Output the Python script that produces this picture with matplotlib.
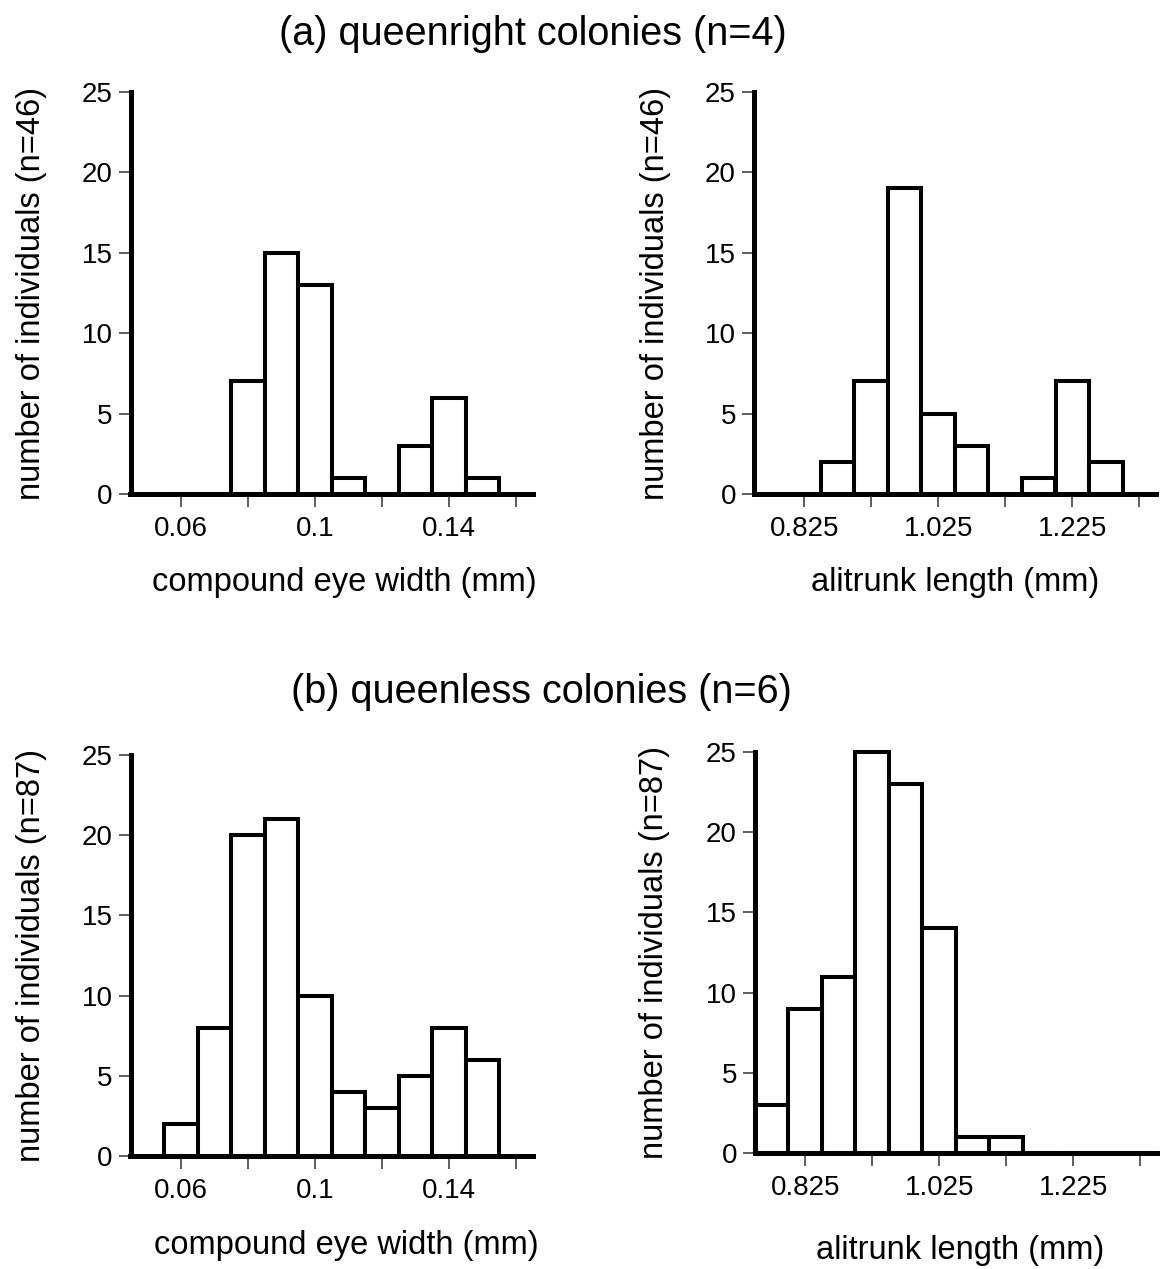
import matplotlib
matplotlib.use("Agg")
import matplotlib.pyplot as plt
import numpy as np

plt.rcParams['font.family'] = ['Liberation Sans', 'DejaVu Sans']

# ---- data ----
eye_centers = [0.06, 0.07, 0.08, 0.09, 0.10, 0.11, 0.12, 0.13, 0.14, 0.15]
eye_width = 0.01
qr_eye_counts = [0, 0, 7, 15, 13, 1, 0, 3, 6, 1]
ql_eye_counts = [2, 8, 20, 21, 10, 4, 3, 5, 8, 6]

ali_centers = [0.775, 0.825, 0.875, 0.925, 0.975, 1.025, 1.075, 1.125,
               1.175, 1.225, 1.275, 1.325]
ali_width = 0.05
qr_ali_counts = [0, 0, 2, 7, 19, 5, 3, 0, 1, 7, 2, 0]
ql_ali_counts = [3, 9, 11, 25, 23, 14, 1, 1, 0, 0, 0, 0]

eye_ticks = [0.06, 0.08, 0.10, 0.12, 0.14, 0.16]
eye_ticklabels = ['0.06', '', '0.1', '', '0.14', '']
ali_ticks = [0.825, 0.925, 1.025, 1.125, 1.225, 1.325]
ali_ticklabels = ['0.825', '', '1.025', '', '1.225', '']
y_ticks = [0, 5, 10, 15, 20, 25]

title_a = '(a) queenright colonies (n=4)'
title_b = '(b) queenless colonies (n=6)'
xlabel_eye = 'compound eye width (mm)'
xlabel_ali = 'alitrunk length (mm)'
ylabel_a = 'number of individuals (n=46)'
ylabel_b = 'number of individuals (n=87)'

W, H = 1161, 1269
fig = plt.figure(figsize=(W / 100, H / 100), dpi=100)


def px_axes(left, top, right, bottom):
    return fig.add_axes([left / W, 1 - bottom / H, (right - left) / W, (bottom - top) / H])


def style(ax, centers, width, counts, xlim, ticks, ticklabels, xlabel, ylabel,
          xlab_pos, ylab_pos):
    bars = ax.bar(centers, counts, width=width, color='white', edgecolor='black',
                  linewidth=2.9, zorder=2)
    for b in bars:
        b.set_clip_on(False)
    ax.set_xlim(*xlim)
    ax.set_ylim(0, 25)
    for s in ['top', 'right']:
        ax.spines[s].set_visible(False)
    for s in ['left', 'bottom']:
        ax.spines[s].set_linewidth(3.6)
        ax.spines[s].set_zorder(3)
    ax.set_xticks(ticks)
    ax.set_xticklabels(ticklabels)
    ax.set_yticks(y_ticks)
    ax.tick_params(axis='both', which='major', direction='out', length=9,
                   width=1.1, labelsize=20, color='#333333')
    ax.tick_params(axis='x', pad=7)
    ax.tick_params(axis='y', pad=4)
    ax.set_xlabel(xlabel, fontsize=23.5)
    ax.set_ylabel(ylabel, fontsize=23.5)
    ax.xaxis.label.set_va('center')
    ax.yaxis.label.set_va('center')
    ax.xaxis.set_label_coords(*xlab_pos)
    ax.yaxis.set_label_coords(*ylab_pos)
    ax.set_facecolor('none')


# top-left
ax1 = px_axes(130.5, 92, 533, 494)
style(ax1, eye_centers, eye_width, qr_eye_counts, (0.045, 0.165), eye_ticks,
      eye_ticklabels, xlabel_eye, ylabel_a, (0.53, -0.221), (-0.247, 0.5))
# top-right
ax2 = px_axes(754, 92, 1156, 494)
style(ax2, ali_centers, ali_width, qr_ali_counts, (0.75, 1.35), ali_ticks,
      ali_ticklabels, xlabel_ali, ylabel_a, (0.5, -0.221), (-0.246, 0.5))
# bottom-left
ax3 = px_axes(130.5, 755, 533, 1156)
style(ax3, eye_centers, eye_width, ql_eye_counts, (0.045, 0.165), eye_ticks,
      eye_ticklabels, xlabel_eye, ylabel_b, (0.535, -0.224), (-0.247, 0.5))
# bottom-right
ax4 = px_axes(755, 752, 1157, 1153)
style(ax4, ali_centers, ali_width, ql_ali_counts, (0.75, 1.35), ali_ticks,
      ali_ticklabels, xlabel_ali, ylabel_b, (0.51, -0.242), (-0.249, 0.5))

fig.text(533 / W, 1 - 34 / H, title_a, fontsize=28.5, ha='center', va='center')
fig.text(541 / W, 1 - 692 / H, title_b, fontsize=28.5, ha='center', va='center')

fig.savefig('out.png', dpi=100, facecolor='white')
